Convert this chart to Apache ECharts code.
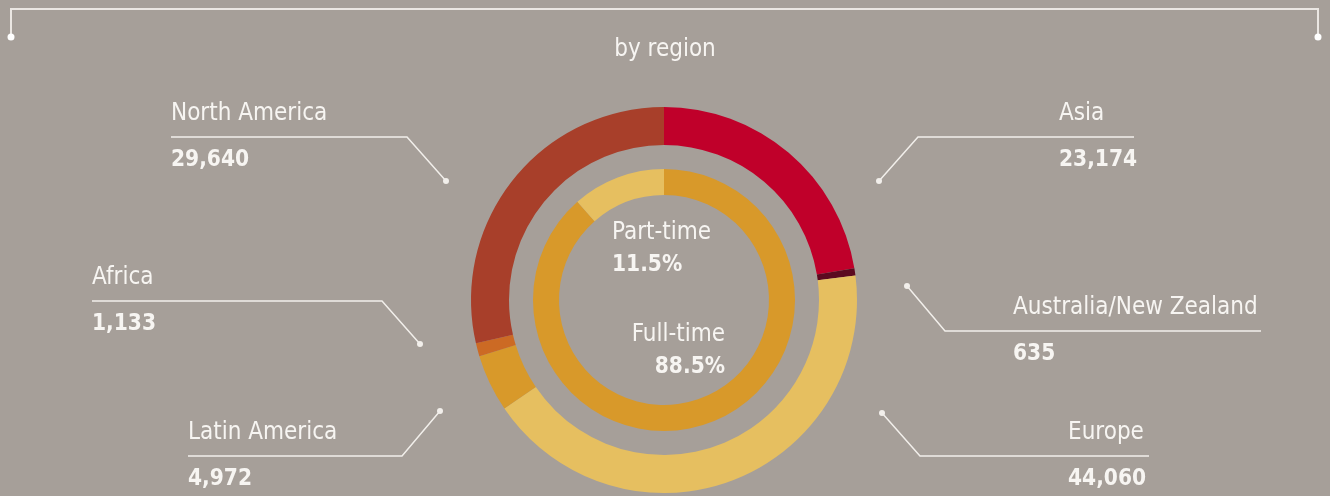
<!DOCTYPE html>
<html>
<head>
<meta charset="utf-8">
<script src="https://cdn.jsdelivr.net/npm/echarts@6/dist/echarts.min.js"></script>
<style>
  html, body { margin: 0; padding: 0; background: #a69f99; }
  #chart { width: 1330px; height: 496px; }
</style>
</head>
<body>
<div id="chart"></div>
<script>
// data
const chartTitle = 'by region'
const regions = ['Asia', 'Australia/New Zealand', 'Europe', 'Latin America', 'Africa', 'North America']
const regionValues = [23174, 635, 44060, 4972, 1133, 29640]
const workTypes = ['Full-time', 'Part-time']
const workShares = [88.5, 11.5]

const FONT = '"Liberation Sans Narrow", "DejaVu Sans Condensed", "Roboto", sans-serif'
const TEXT = '#f7f5f2'
const LINE = '#f2efeb'

const regionColors = ['#c0002a', '#5c0a20', '#e6bf60', '#d8992a', '#cc6a24', '#a83f2a']
const workColors = ['#d8992a', '#e6bf60']

// leader line layout (dot, elbow, end of underline, text left x)
const leaders = [
  { dot: [879, 181], elbow: [918, 137], end: [1134, 137], textX: 1059 },
  { dot: [907, 286], elbow: [945, 331], end: [1261, 331], textX: 1013 },
  { dot: [882, 413], elbow: [920, 456], end: [1149, 456], textX: 1068 },
  { dot: [440, 411], elbow: [402, 456], end: [188, 456], textX: 188 },
  { dot: [420, 344], elbow: [382, 301], end: [92, 301], textX: 92 },
  { dot: [446, 181], elbow: [407, 137], end: [171, 137], textX: 171 },
]

const centerLabels = [
  { x: 725, y: 351, align: 'right' },
  { x: 612, y: 249, align: 'left' },
]

const chart = echarts.init(document.getElementById('chart'))

const fmt = (v) => v.toLocaleString('en-US')

const graphics = [
  {
    type: 'polyline',
    shape: { points: [[11, 37], [11, 9], [1318, 9], [1318, 37]] },
    style: { stroke: '#ebe7e3', lineWidth: 2, fill: null },
  },
  { type: 'circle', shape: { cx: 11, cy: 37, r: 3.5 }, style: { fill: '#ffffff' } },
  { type: 'circle', shape: { cx: 1318, cy: 37, r: 3.5 }, style: { fill: '#ffffff' } },
]
leaders.forEach((l) => {
  graphics.push({ type: 'circle', shape: { cx: l.dot[0], cy: l.dot[1], r: 3 }, style: { fill: LINE } })
})

const option = {
  backgroundColor: '#a69f99',
  animation: false,
  title: {
    text: chartTitle,
    left: 'center',
    top: 33,
    textStyle: { color: TEXT, fontFamily: FONT, fontSize: 24, fontWeight: 'normal' },
  },
  graphic: graphics,
  series: [
    {
      type: 'pie',
      center: [664, 300],
      radius: [155, 193],
      startAngle: 90,
      clockwise: true,
      avoidLabelOverlap: false,
      emphasis: { disabled: true },
      data: regions.map((name, i) => ({ name, value: regionValues[i], itemStyle: { color: regionColors[i] } })),
      label: {
        show: true,
        position: 'outside',
        formatter: (p) => `{n|${p.name}}\n{v|${fmt(p.value)}}`,
        rich: {
          n: { color: TEXT, fontFamily: FONT, fontSize: 24, lineHeight: 47 },
          v: { color: TEXT, fontFamily: FONT, fontSize: 22.5, fontWeight: 'bold', lineHeight: 47 },
        },
      },
      labelLine: { show: true, lineStyle: { color: LINE, width: 1.5 } },
      labelLayout: (params) => {
        const l = leaders[params.dataIndex]
        return {
          x: l.textX,
          y: l.end[1],
          align: 'left',
          verticalAlign: 'middle',
          labelLinePoints: [l.dot, l.elbow, l.end],
        }
      },
    },
    {
      type: 'pie',
      center: [664, 300],
      radius: [105, 131],
      startAngle: 90,
      clockwise: true,
      emphasis: { disabled: true },
      data: workTypes.map((name, i) => ({ name, value: workShares[i], itemStyle: { color: workColors[i] } })),
      label: {
        show: true,
        position: 'outside',
        formatter: (p) => `{n|${p.name}}\n{v|${p.value}%}`,
        rich: {
          n: { color: TEXT, fontFamily: FONT, fontSize: 24, lineHeight: 33 },
          v: { color: TEXT, fontFamily: FONT, fontSize: 22.5, fontWeight: 'bold', lineHeight: 33 },
        },
      },
      labelLine: { show: false },
      labelLayout: (params) => {
        const c = centerLabels[params.dataIndex]
        return { x: c.x, y: c.y, align: c.align, verticalAlign: 'middle' }
      },
    },
  ],
}

chart.setOption(option)
</script>
</body>
</html>
